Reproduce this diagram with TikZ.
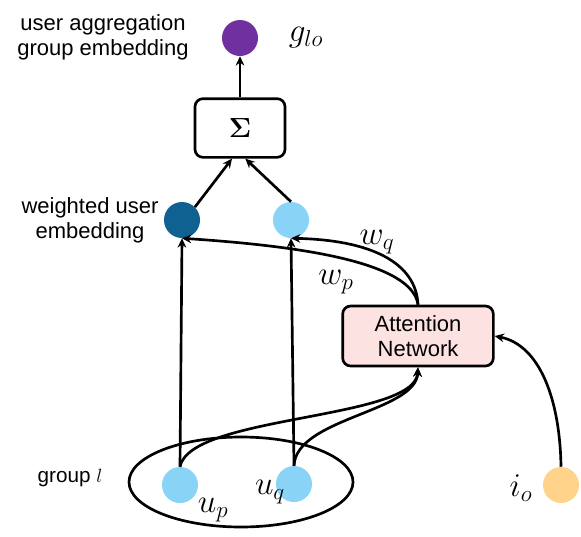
\documentclass[tikz,border=0pt]{standalone}
\usepackage{fontspec}
\setmainfont{Liberation Sans}
\usepackage{amsmath}
\usetikzlibrary{arrows.meta}
\definecolor{gpurple}{HTML}{7030A0}
\definecolor{darkblue}{HTML}{0E6190}
\definecolor{lightblue}{HTML}{89D3F7}
\definecolor{lightorange}{HTML}{FFD38A}
\definecolor{pinkfill}{HTML}{FDE2E2}
\begin{document}
\begin{tikzpicture}[x=0.75pt,y=-0.75pt,
  dot/.style={circle,minimum size=27pt,inner sep=0pt},
  boxnode/.style={draw,rounded corners=6pt,line width=2pt},
  lbl/.style={font=\fontsize{16.5}{19}\selectfont,align=center},
  mlab/.style={font=\fontsize{27}{30}\selectfont},
  conn/.style={line width=2pt,-{Stealth[length=7pt,width=6.5pt]}},
  ]
\useasboundingbox (0,0) rectangle (581,536);
% ellipse
\draw[line width=2pt] (241,482) ellipse [x radius=112, y radius=45];
% nodes
\node[dot,fill=gpurple] (g) at (240,38) {};
\node[mlab] (glab) at (306,38) {$g_{lo}$};
\node[lbl] (toplab) at (103,37) {user aggregation\\group embedding};
\node[boxnode,minimum width=67.5pt,minimum height=44pt] (sum) at (240,128) {\fontsize{22}{26}\selectfont$\boldsymbol{\Sigma}$};
\node[dot,fill=darkblue] (wu1) at (182,220) {};
\node[dot,fill=lightblue] (wu2) at (291,220) {};
\node[lbl] (wlab) at (90,220) {weighted user\\embedding};
\node[boxnode,fill=pinkfill,minimum width=113pt,minimum height=45pt,lbl] (att) at (418,336) {Attention\\Network};
\node[dot,fill=lightblue] (up) at (180,485) {};
\node[dot,fill=lightblue] (uq) at (294,484) {};
\node[dot,fill=lightorange] (io) at (561,485) {};
\node[mlab] (uplab) at (213,510) {$u_p$};
\node[mlab] (uqlab) at (270,492) {$u_q$};
\node[mlab] (iolab) at (521,488) {$i_o$};
\node[font=\fontsize{15.5}{18}\selectfont] (grp) at (70,478) {group $l$};
\node[mlab] (wqlab) at (377,242) {$w_q$};
\node[mlab] (wplab) at (336,282) {$w_p$};
% connectors
\draw[conn] (sum.north) -- (g.south);
\draw[conn] (wu1.45) -- ([xshift=-6pt]sum.south);
\draw[conn] (wu2.north) -- ([xshift=4pt]sum.south);
\draw[conn] (up.north) -- (wu1.south);
\draw[conn] (uq.north) -- (wu2.south);
\draw[conn] (att.north) .. controls (412,262) and (300,246) .. (wu1.south);
\draw[conn] (att.north) .. controls (416,262) and (370,240) .. (wu2.south);
\draw[conn] (up.north) .. controls (190,415) and (415,420) .. (att.south);
\draw[conn] (uq.north) .. controls (296,418) and (416,412) .. (att.south);
\draw[conn] (io.north) .. controls (560,400) and (540,345) .. (att.east);
\end{tikzpicture}
\end{document}
